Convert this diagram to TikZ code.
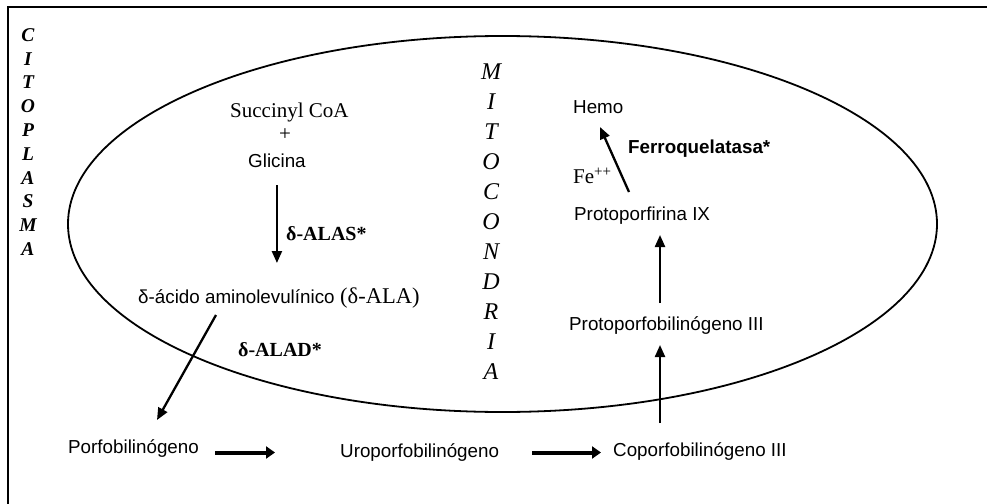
\documentclass[tikz,border=0pt]{standalone}
\usepackage{fontspec}
\setmainfont{Liberation Serif}
\setsansfont{Liberation Sans}
\usetikzlibrary{arrows.meta,calc}
\begin{document}
\begin{tikzpicture}[x=1pt,y=-1pt,
  lbl/.style={inner sep=0pt, anchor=base west},
  sans/.style={lbl, font=\sffamily\fontsize{18.8}{20}\selectfont},
  serif/.style={lbl, font=\fontsize{21}{23}\selectfont},
  enzs/.style={lbl, font=\bfseries\fontsize{20}{22}\selectfont},
  enzsans/.style={lbl, font=\sffamily\bfseries\fontsize{18.8}{20}\selectfont},
  citol/.style={inner sep=0pt, font=\bfseries\itshape\fontsize{19.5}{20}\selectfont},
  mitol/.style={inner sep=0pt, font=\itshape\fontsize{24}{26}\selectfont},
  thinarr/.style={line width=2.3pt, -{Triangle[length=12pt,width=10pt]}},
  fatarr/.style={line width=4pt, -{Triangle[length=9pt,width=12pt]}},
]
\useasboundingbox (0,0) rectangle (987,503);
\draw[line width=2.5pt] (8,510) -- (8,7) -- (995,7);
\draw[line width=1.8pt] (502.5,224) ellipse [x radius=434.5pt, y radius=188pt];

\foreach \l [count=\i] in {C,I,T,O,P,L,A,S,M,A}
  \node[citol] (cit\i) at (28,{35+23.8*(\i-1)}) {\l};
\foreach \l [count=\i] in {M,I,T,O,C,O,N,D,R,I,A}
  \node[mitol] (mit\i) at (491,{72+30*(\i-1)}) {\l};

\node[serif] (succ) at (230,117) {Succinyl CoA};
\node[serif, anchor=center] (plus) at (285,135) {+};
\node[sans] (glic) at (248,167) {Glicina};
\node[enzs] (alas) at (286,240) {δ-ALAS*};
\node[sans] (ala) at (138,303) {δ-ácido aminolevulínico};
\node[serif, font=\fontsize{22.5}{24}\selectfont] (alaabbr) at (340,303) {(δ-ALA)};
\node[enzs] (alad) at (238,356) {δ-ALAD*};
\node[sans] (porf) at (68,453) {Porfobilinógeno};
\node[sans] (uro) at (340,457) {Uroporfobilinógeno};
\node[sans] (copor) at (613,456) {Coporfobilinógeno III};
\node[sans] (protob) at (569,330) {Protoporfobilinógeno III};
\node[sans] (protoir) at (574,220) {Protoporfirina IX};
\node[serif] (fe) at (573,183) {Fe\raisebox{7pt}{\fontsize{15}{15}\selectfont ++}};
\node[enzsans] (ferro) at (628,153) {Ferroquelatasa*};
\node[sans] (hemo) at (573,113) {Hemo};

\draw[thinarr] ([yshift=-18pt]glic.south) -- ($(glic.south |- ala.base)+(0,-40)$);
\draw[thinarr] ($(ala.base west)+(78,12)$) -- ($(porf.base west)+(89,-33)$);
\draw[fatarr] ($(porf.base west)+(147,-0.5)$) -- ($(uro.base west)+(-65,-4.5)$);
\draw[fatarr] ($(uro.base west)+(192,-4.5)$) -- ($(copor.base west)+(-12,-3.5)$);
\draw[thinarr] ($(copor.base west)+(47,-33)$) -- ($(protob.base west)+(91,15)$);
\draw[thinarr] ($(protob.base west)+(91,-27)$) -- ($(protoir.base west)+(86,15)$);
\draw[thinarr] ($(protoir.base west)+(55,-28)$) -- ($(hemo.base west)+(27,14)$);
\end{tikzpicture}
\end{document}
